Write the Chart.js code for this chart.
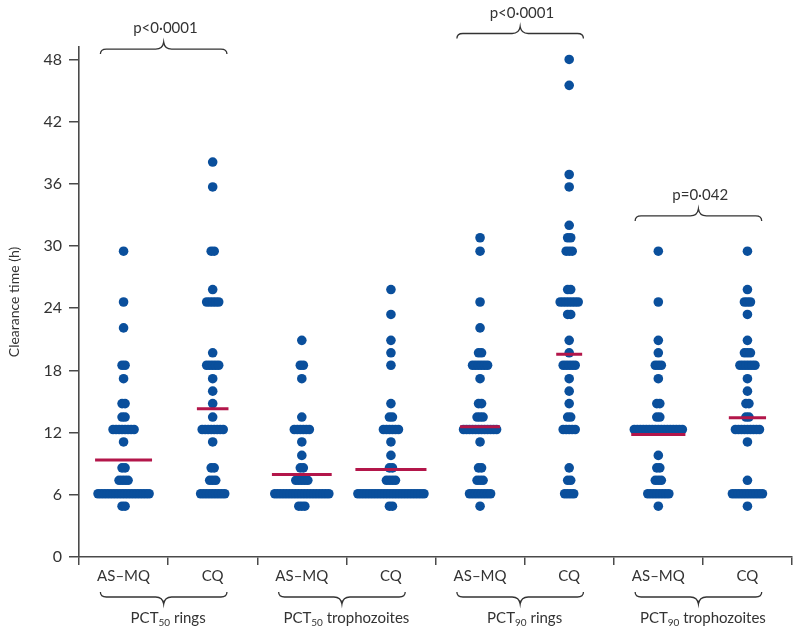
<!DOCTYPE html>
<html>
<head>
<meta charset="utf-8">
<script src="https://cdn.jsdelivr.net/npm/chart.js@4.4.1/dist/chart.umd.min.js"></script>
<style>
  html, body { margin: 0; padding: 0; background: #fff; }
  #wrap { width: 800px; height: 636px; }
</style>
</head>
<body>
<div id="wrap"><canvas id="chart"></canvas></div>
<script>
const categories = ['AS–MQ', 'CQ', 'AS–MQ', 'CQ', 'AS–MQ', 'CQ', 'AS–MQ', 'CQ'];
const groupPct = ['50', '50', '90', '90'];
const groupStage = ['rings', 'trophozoites', 'rings', 'trophozoites'];
const yTicks = [0, 6, 12, 18, 24, 30, 36, 42, 48];

// [clearance time (h), number of patients]
const pct50RingsASMQ = [[4.9, 2], [6.1, 18], [7.4, 4], [8.6, 2], [11.1, 1], [12.3, 8], [13.5, 2], [14.8, 2], [17.2, 1], [18.5, 2], [22.1, 1], [24.6, 1], [29.5, 1]];
const pct50RingsCQ = [[6.1, 9], [7.4, 3], [8.6, 2], [11.1, 1], [12.3, 8], [13.5, 1], [14.8, 1], [16.0, 1], [17.2, 1], [18.5, 5], [19.7, 1], [24.6, 5], [25.8, 1], [29.5, 2], [35.7, 1], [38.1, 1]];
const pct50TrophASMQ = [[4.9, 3], [6.1, 19], [7.4, 5], [8.6, 2], [9.8, 1], [11.1, 1], [12.3, 6], [13.5, 1], [17.2, 1], [18.5, 2], [20.9, 1]];
const pct50TrophCQ = [[4.9, 2], [6.1, 23], [7.4, 4], [8.6, 2], [9.8, 1], [11.1, 1], [12.3, 6], [13.5, 2], [14.8, 1], [18.5, 1], [19.7, 1], [20.9, 1], [23.4, 1], [25.8, 1]];
const pct90RingsASMQ = [[4.9, 1], [6.1, 8], [7.4, 3], [8.6, 2], [11.1, 1], [12.3, 12], [13.5, 3], [14.8, 2], [17.2, 1], [18.5, 6], [19.7, 2], [22.1, 1], [24.6, 1], [29.5, 1], [30.8, 1]];
const pct90RingsCQ = [[6.1, 4], [7.4, 2], [8.6, 1], [12.3, 5], [13.5, 2], [14.8, 1], [16.0, 1], [17.2, 1], [18.5, 5], [19.7, 1], [20.9, 1], [23.4, 2], [24.6, 7], [25.8, 2], [29.5, 3], [30.8, 2], [32.0, 1], [35.7, 1], [36.9, 1], [45.5, 1], [48.0, 1]];
const pct90TrophASMQ = [[4.9, 1], [6.1, 8], [7.4, 3], [8.6, 2], [9.8, 1], [12.3, 17], [13.5, 2], [14.8, 2], [17.2, 1], [18.5, 3], [19.7, 1], [20.9, 1], [24.6, 1], [29.5, 1]];
const pct90TrophCQ = [[4.9, 1], [6.1, 11], [7.4, 1], [11.1, 1], [12.3, 9], [13.5, 2], [14.8, 2], [16.0, 1], [17.2, 1], [18.5, 6], [19.7, 3], [20.9, 1], [23.4, 1], [24.6, 3], [25.8, 1], [29.5, 1]];

const means = [9.35, 14.3, 7.97, 8.45, 12.56, 19.57, 11.82, 13.43];

const pTests = [
  { group: 0, text: 'p<0·0001' },
  { group: 2, text: 'p<0·0001' },
  { group: 3, text: 'p=0·042' }
];

const columns = [pct50RingsASMQ, pct50RingsCQ, pct50TrophASMQ, pct50TrophCQ,
                 pct90RingsASMQ, pct90RingsCQ, pct90TrophASMQ, pct90TrophCQ];

// beeswarm spread: equal values are laid side by side
const DOT_R = 4.8;
const STEP_PX = 3;
const pxPerUnit = 713 / 8;
const step = STEP_PX / pxPerUnit;

const dots = [];
const meanSegs = [];
columns.forEach((col, i) => {
  const c = i + 0.5;
  let maxN = 1;
  col.forEach(([v, n]) => {
    maxN = Math.max(maxN, n);
    for (let k = 0; k < n; k++) dots.push({ x: c + (k - (n - 1) / 2) * step, y: v });
  });
  const half = ((maxN - 1) * STEP_PX + 2 * DOT_R) * 0.47 / pxPerUnit;
  meanSegs.push({ x: c - half, y: means[i] }, { x: c + half, y: means[i] }, { x: c, y: null });
});

const FONT = 'Lato, "Open Sans", sans-serif';
const INK = '#333';
const AXIS = '#4a4a4a';

function brace(ctx, x0, x1, y, dir) {
  // dir = -1 tip points up, dir = 1 tip points down
  const xm = (x0 + x1) / 2, e = 5, t = 7;
  ctx.beginPath();
  ctx.moveTo(x0, y - dir * e);
  ctx.quadraticCurveTo(x0, y, x0 + 6, y);
  ctx.lineTo(xm - 8, y);
  ctx.quadraticCurveTo(xm - 1, y, xm, y + dir * t);
  ctx.quadraticCurveTo(xm + 1, y, xm + 8, y);
  ctx.lineTo(x1 - 6, y);
  ctx.quadraticCurveTo(x1, y, x1, y - dir * e);
  ctx.stroke();
}

const braces = {
  id: 'braces',
  afterDraw(chart) {
    const { ctx, scales: { x, y } } = chart;
    ctx.save();
    ctx.strokeStyle = INK;
    ctx.lineWidth = 1.3;
    ctx.fillStyle = INK;

    // significance brackets above the pairs
    const levels = { 0: 49.0, 2: 50.5, 3: 32.9 };
    pTests.forEach(p => {
      const g = p.group * 2;
      const yy = y.getPixelForValue(levels[p.group]);
      brace(ctx, x.getPixelForValue(g + 0.24), x.getPixelForValue(g + 1.66), yy, -1);
      ctx.font = '15px ' + FONT;
      ctx.textAlign = 'center';
      ctx.textBaseline = 'alphabetic';
      ctx.fillText(p.text, x.getPixelForValue(g + 0.97), yy - 16);
    });

    // group braces and labels under the axis
    const by = 597;
    groupPct.forEach((pct, i) => {
      const g = i * 2;
      brace(ctx, x.getPixelForValue(g + 0.24), x.getPixelForValue(g + 1.66), by, 1);
      const a = 'PCT', b = ' ' + groupStage[i];
      ctx.font = '15px ' + FONT;
      const wa = ctx.measureText(a).width, wb = ctx.measureText(b).width;
      ctx.font = '10px ' + FONT;
      const ws = ctx.measureText(pct).width;
      let sx = x.getPixelForValue(g + 1.0) - (wa + ws + wb) / 2;
      ctx.textAlign = 'left';
      ctx.textBaseline = 'alphabetic';
      ctx.font = '15px ' + FONT;
      ctx.fillText(a, sx, 623);
      ctx.font = '10px ' + FONT;
      ctx.fillText(pct, sx + wa, 626);
      ctx.font = '15px ' + FONT;
      ctx.fillText(b, sx + wa + ws, 623);
    });
    ctx.restore();
  }
};

new Chart(document.getElementById('chart'), {
  type: 'scatter',
  data: {
    datasets: [
      {
        type: 'line',
        data: meanSegs,
        borderColor: '#b3164a',
        borderWidth: 3,
        pointRadius: 0,
        spanGaps: false,
        order: 0
      },
      {
        data: dots,
        backgroundColor: '#0a4f9c',
        borderWidth: 0,
        pointRadius: DOT_R,
        order: 1
      }
    ]
  },
  options: {
    responsive: true,
    maintainAspectRatio: false,
    animation: false,
    layout: { padding: { top: 47, right: 8, bottom: 0, left: 0 } },
    plugins: { legend: { display: false }, tooltip: { enabled: false } },
    scales: {
      x: {
        type: 'linear',
        min: 0,
        max: 8,
        afterBuildTicks: s => { s.ticks = Array.from({ length: 17 }, (_, i) => ({ value: i / 2 })); },
        afterFit: s => { s.height = 79; },
        border: { color: AXIS, width: 1.6 },
        grid: {
          drawOnChartArea: false,
          tickLength: 8,
          lineWidth: 1.5,
          color: c => (c.tick && c.tick.value % 1 === 0) ? AXIS : 'rgba(0,0,0,0)'
        },
        ticks: {
          autoSkip: false,
          maxRotation: 0,
          padding: 2,
          color: INK,
          font: { family: FONT, size: 15 },
          callback: v => (v % 1 !== 0) ? categories[Math.floor(v)] : ''
        }
      },
      y: {
        min: 0,
        max: 49.2,
        afterBuildTicks: s => { s.ticks = yTicks.map(v => ({ value: v })); },
        afterFit: s => { s.width = 79; },
        border: { color: AXIS, width: 1.6 },
        grid: { drawOnChartArea: false, tickLength: 10, lineWidth: 1.5, color: AXIS },
        ticks: { padding: 7, color: INK, font: { family: FONT, size: 16 } },
        title: {
          display: true,
          text: 'Clearance time (h)',
          color: INK,
          font: { family: FONT, size: 14 },
          padding: { top: 6, bottom: 0 }
        }
      }
    }
  },
  plugins: [braces]
});
</script>
</body>
</html>
